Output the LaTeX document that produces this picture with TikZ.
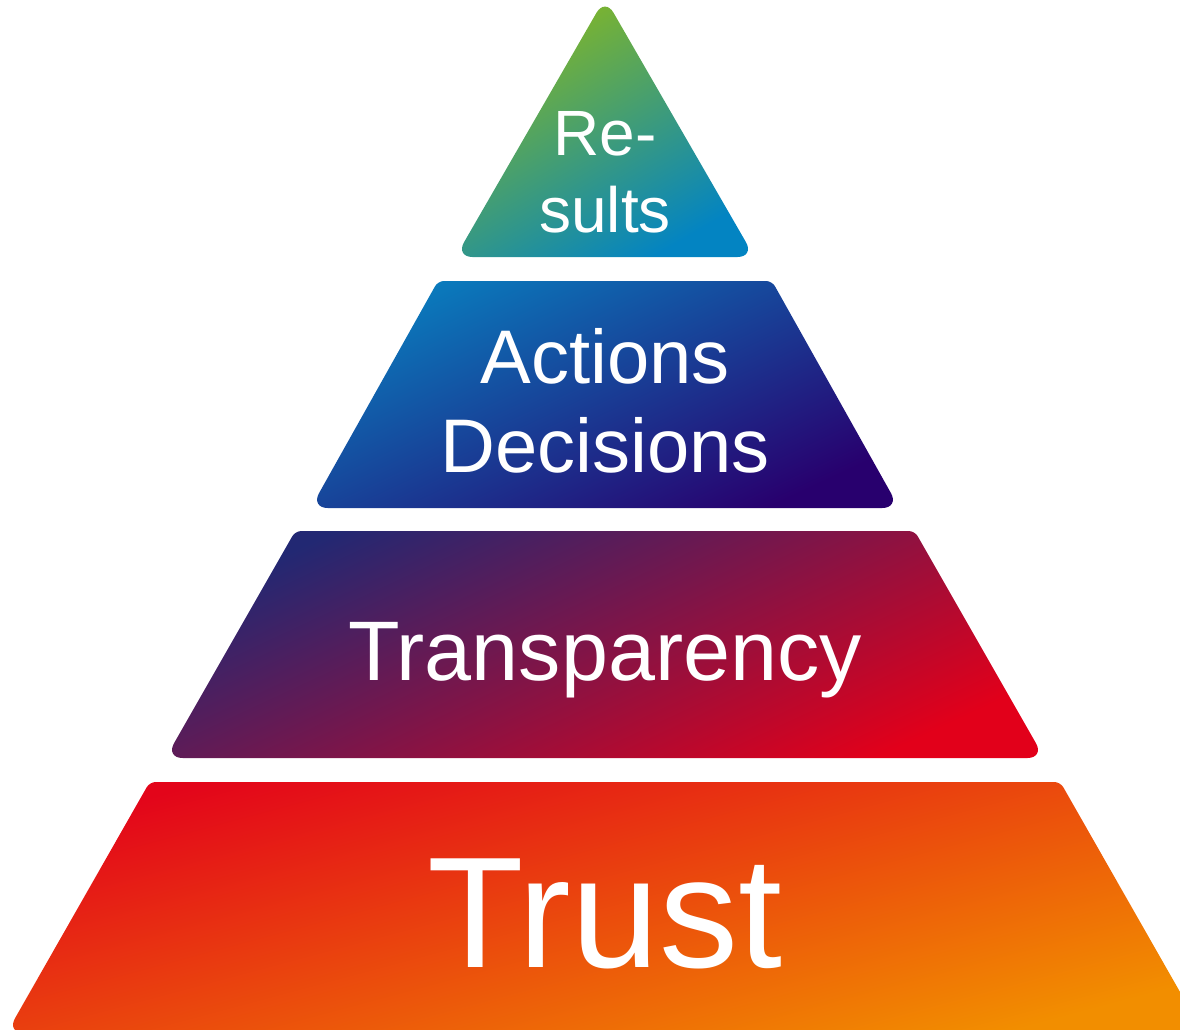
\documentclass[tikz,border=0pt]{standalone}
\usepackage{fontspec}
\setmainfont{Liberation Sans}
\definecolor{topA}{HTML}{86B822}
\definecolor{topB}{HTML}{0384C2}
\definecolor{secA}{HTML}{0A7ABC}
\definecolor{secB}{HTML}{28006E}
\definecolor{thrA}{HTML}{222873}
\definecolor{thrB}{HTML}{E2001A}
\definecolor{botA}{HTML}{E3051A}
\definecolor{botB}{HTML}{F28E00}
\begin{document}
\begin{tikzpicture}[x=1pt,y=-1pt,
  layer/.style n args={3}{top color=#1, bottom color=#2, shading angle=#3},
  acute/.style={rounded corners=17pt},
  obtuse/.style={rounded corners=6pt},
  lbl/.style={text=white, anchor=base, inner sep=0pt}]
\useasboundingbox (0,0) rectangle (1180,1030);
\clip (0,0) rectangle (1180,1030);
% layers
\shade[layer={topA}{topB}{30}]
  (605,257) [acute] -- (455.5,257) -- (605,-2) -- (754.5,257) -- cycle;
\shade[layer={secA}{secB}{25}]
  (605,281) [obtuse] -- (438,281) [acute] -- (310.7,508) -- (899.3,508)
  [obtuse] -- (772,281) -- cycle;
\shade[layer={thrA}{thrB}{25}]
  (605,531) [obtuse] -- (295.3,531) [acute] -- (165.6,758) -- (1044.4,758)
  [obtuse] -- (914.7,531) -- cycle;
\shade[layer={botA}{botB}{15}]
  (605,782) [obtuse] -- (149.7,782) [acute] -- (6.6,1033) -- (1203.4,1033)
  [obtuse] -- (1060.3,782) -- cycle;
% labels
\node[lbl, font=\fontsize{64}{64}\selectfont] (res1) at (605,155) {Re-};
\node[lbl, font=\fontsize{64}{64}\selectfont] (res2) at (605,232) {sults};
\node[lbl, font=\fontsize{76}{76}\selectfont] (act) at (605,383) {Actions};
\node[lbl, font=\fontsize{76}{76}\selectfont] (dec) at (605,472) {Decisions};
\node[lbl, font=\fontsize{84.5}{84.5}\selectfont] (tra) at (605,680) {Transparency};
\node[lbl, font=\fontsize{158}{158}\selectfont] (tru) at (605,967) {Trust};
\end{tikzpicture}
\end{document}
